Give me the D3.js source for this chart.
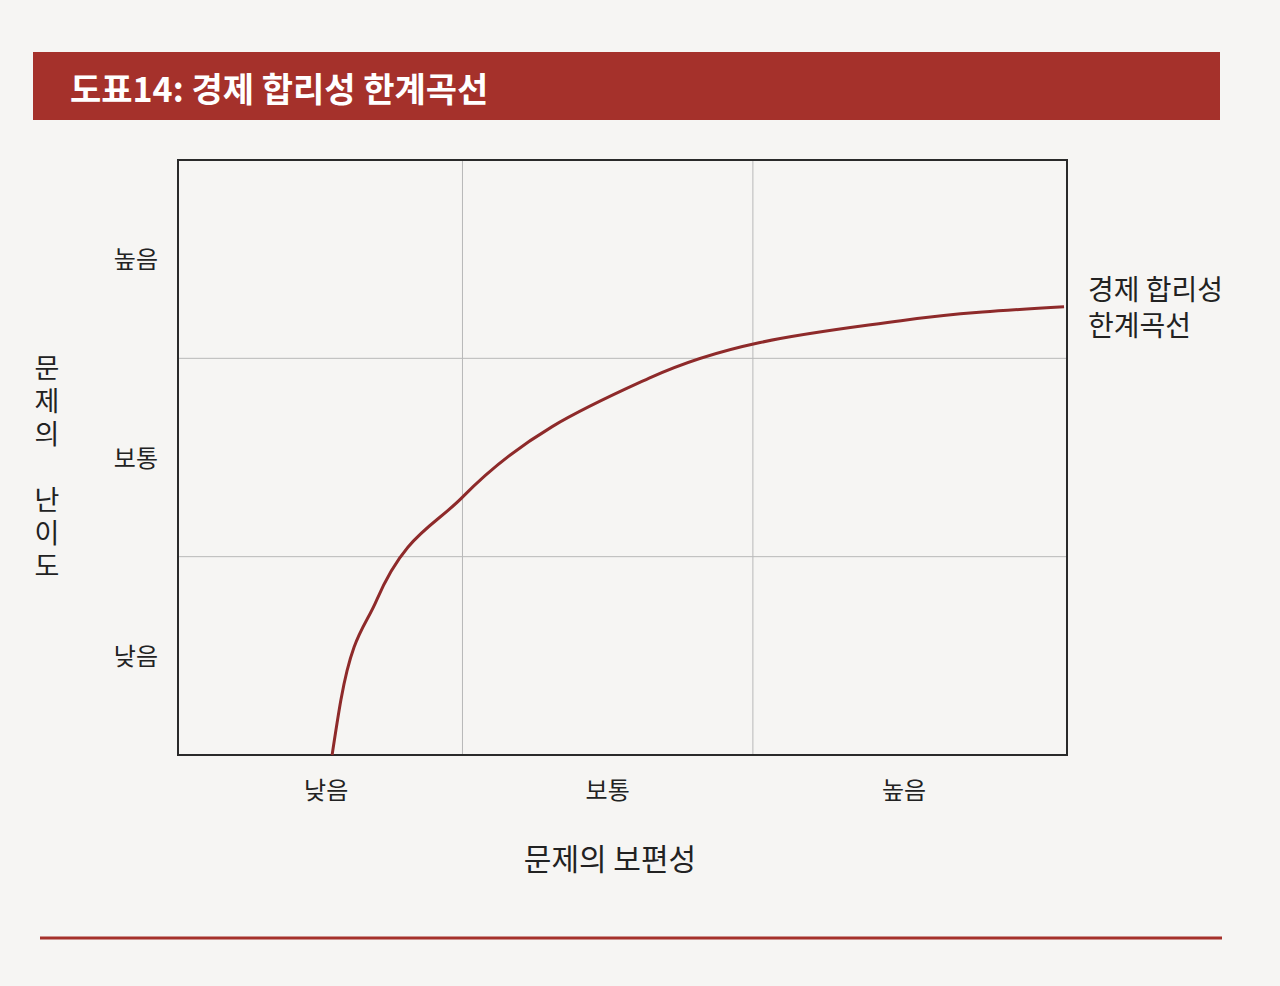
<!DOCTYPE html>
<html>
<head>
<meta charset="utf-8">
<script src="https://cdn.jsdelivr.net/npm/d3@7"></script>
<style>
  body { margin: 0; background: #f6f5f3; }
  svg { display: block; font-family: "Noto Sans CJK KR", "Noto Sans", sans-serif; }
</style>
</head>
<body>
<svg id="chart" width="1280" height="986"></svg>
<script>
// chart values
var levelLabels = ["낮음", "보통", "높음"];
var curveX = [0.52, 0.55, 0.67, 0.96, 1.59, 2.44, 2.99];
var curveY = [0.00, 0.28, 0.78, 1.30, 1.90, 2.19, 2.26];
var titleText = "도표14: 경제 합리성 한계곡선";
var curveLabel = ["경제 합리성", "한계곡선"];
var xTitle = "문제의 보편성";
var yTitle = ["문", "제", "의", "", "난", "이", "도"];

var svg = d3.select("#chart"),
    red = "#a5312b",
    margin = {left: 178, top: 160, right: 213, bottom: 231},
    w = 1280 - margin.left - margin.right,
    h = 986 - margin.top - margin.bottom;

// title bar
svg.append("rect").attr("x", 33).attr("y", 52).attr("width", 1187).attr("height", 68).attr("fill", red);
svg.append("text").attr("x", 70).attr("y", 102).attr("fill", "#fff")
    .attr("font-size", 34).attr("font-weight", "bold").text(titleText);

var x = d3.scaleLinear().domain([0, 3]).range([0, w]),
    y = d3.scaleLinear().domain([0, 3]).range([h, 0]);

var g = svg.append("g").attr("transform", "translate(" + margin.left + "," + margin.top + ")");

// grid
g.selectAll("line.vg").data([0.96, 1.94]).enter().append("line")
    .attr("x1", x).attr("x2", x).attr("y1", 0).attr("y2", h)
    .attr("stroke", "#b8b8b8").attr("stroke-width", 1);
g.selectAll("line.hg").data([1, 2]).enter().append("line")
    .attr("y1", y).attr("y2", y).attr("x1", 0).attr("x2", w)
    .attr("stroke", "#b8b8b8").attr("stroke-width", 1);
g.append("rect").attr("width", w).attr("height", h)
    .attr("fill", "none").attr("stroke", "#2a2a2a").attr("stroke-width", 2);

// level labels
g.selectAll("text.xl").data(levelLabels).enter().append("text")
    .attr("x", function (d, i) { return x([0.5, 1.45, 2.45][i]); }).attr("y", h + 44)
    .attr("text-anchor", "middle").attr("font-size", 24).attr("fill", "#222").text(function (d) { return d; });
g.selectAll("text.yl").data(levelLabels).enter().append("text")
    .attr("x", -20).attr("y", function (d, i) { return y(i + 0.5) + 9; })
    .attr("text-anchor", "end").attr("font-size", 24).attr("fill", "#222").text(function (d) { return d; });

// curve
var pts = curveX.map(function (d, i) { return [d, curveY[i]]; });
g.append("path").datum(pts)
    .attr("d", d3.line().x(function (d) { return x(d[0]); }).y(function (d) { return y(d[1]); }).curve(d3.curveMonotoneX))
    .attr("fill", "none").attr("stroke", "#8e2a2a").attr("stroke-width", 3);

// curve label
svg.selectAll("text.cl").data(curveLabel).enter().append("text")
    .attr("x", 1088).attr("y", function (d, i) { return 300 + i * 36; })
    .attr("font-size", 28).attr("fill", "#222").text(function (d) { return d; });

// axis titles
svg.append("text").attr("x", 610).attr("y", 870).attr("text-anchor", "middle")
    .attr("font-size", 30).attr("fill", "#222").text(xTitle);
svg.selectAll("text.yt").data(yTitle).enter().append("text")
    .attr("x", 47).attr("y", function (d, i) { return 378 + i * 33; })
    .attr("text-anchor", "middle").attr("font-size", 27).attr("fill", "#222").text(function (d) { return d; });

// bottom rule
svg.append("line").attr("x1", 40).attr("x2", 1222).attr("y1", 938).attr("y2", 938)
    .attr("stroke", red).attr("stroke-width", 3);
</script>
</body>
</html>
